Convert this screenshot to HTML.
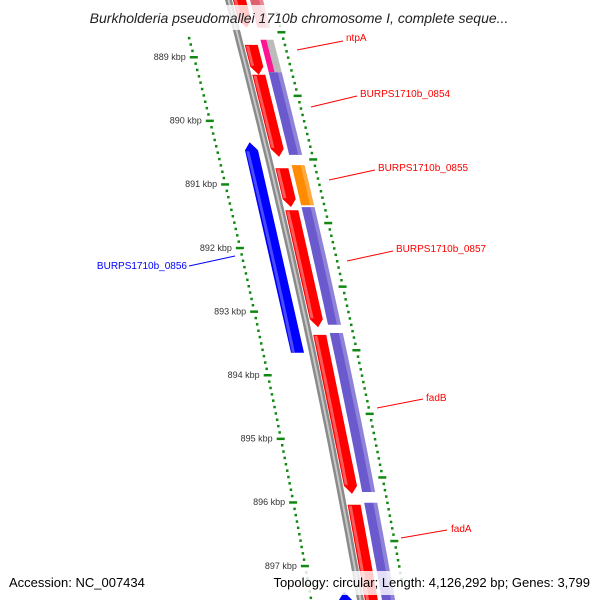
<!DOCTYPE html>
<html><head><meta charset="utf-8"><style>
html,body{margin:0;padding:0;background:#fff;}
svg{display:block;font-family:"Liberation Sans",sans-serif;}
</style></head><body>
<svg id="map" width="600" height="600" viewBox="0 0 600 600" xmlns="http://www.w3.org/2000/svg">
<g id="layer"></g>
</svg>
<script>
// data (kbp)
const tickLabels = [889, 890, 891, 892, 893, 894, 895, 896, 897];
const fwdNames = ["", "ntpA", "BURPS1710b_0854", "BURPS1710b_0855", "BURPS1710b_0857", "fadB", "fadA"];
const fwdStart = [887.95, 888.81, 889.28, 890.75, 891.41, 893.37, 896.04];
const fwdEnd   = [888.54, 889.28, 890.57, 891.36, 893.25, 895.87, 897.90];
const cdsStart = [887.95, 888.73, 889.24, 890.70, 891.36, 893.34, 896.01];
const cdsEnd   = [888.54, 889.24, 890.54, 891.33, 893.21, 895.84, 897.90];
const cdsColor = ["#e06070", "#ff1493", "#6a5acd", "#ff8c00", "#6a5acd", "#6a5acd", "#6a5acd"];
const revNames = ["BURPS1710b_0856", ""];
const revStart = [890.34, 897.41];
const revEnd   = [893.65, 897.90];

const layer = document.getElementById('layer');
const NS = "http://www.w3.org/2000/svg";
function yOf(k){ return 57 + (k - 889) * 63.6; }
function cx(y){ return 225 + 0.264*y - 7.33e-5*y*y; }
function P(o,y){ return (cx(y)+o).toFixed(1)+","+y.toFixed(1); }
function mk(tag, attrs){ const e=document.createElementNS(NS,tag); for(const k in attrs) e.setAttribute(k,attrs[k]); layer.appendChild(e); return e; }
function band(o1,o2,y1,y2){ const pts=[]; for(let y=y1;y<=y2;y+=10) pts.push(P(o1,Math.min(y,y2))); pts.push(P(o1,y2)); pts.push(P(o2,y2)); for(let y=y2;y>=y1;y-=10) pts.push(P(o2,Math.max(y,y1))); pts.push(P(o2,y1)); return pts.join(" "); }
function arrow(o1,o2,y1,y2,dir){ const m=(o1+o2)/2, h=8;
  if(dir>0) return [P(o1,y1),P(o2,y1),P(o2,y2-h),P(m,y2),P(o1,y2-h)].join(" ");
  return [P(m,y1),P(o2,y1+h),P(o2,y2),P(o1,y2),P(o1,y1+h)].join(" "); }

// backbone
let e = mk('polygon',{points:band(0,7,-5,605),fill:'#8a8a8a'});
 
e = mk('polygon',{points:band(2.5,4.5,-5,605),fill:'#c8c8c8'});
 

// rulers
for(let i=-3;i<=95;i++){
  const k = 889 + i/10; const y = yOf(k);
  if(y<-5||y>605) continue;
  const major = (i%10===0);
  const d = mk('rect',{x:(cx(y)-46-(major?4:1)).toFixed(1),y:(y-1).toFixed(1),width:major?8:2.5,height:2.5,fill:'#118811'});
   
  const y2 = y - 25;
  const d2 = mk('rect',{x:(cx(y2)+48-(major?4:1)).toFixed(1),y:(y2-1).toFixed(1),width:major?8:2.5,height:2.5,fill:'#118811'});
   
}
tickLabels.forEach(k=>{ const y=yOf(k);
  const t = mk('text',{x:(cx(y)-54).toFixed(1),y:(y+3).toFixed(1),'font-size':'9','text-anchor':'end',fill:'#333'});
  t.textContent = k+" kbp";
   
});

// forward genes (red)
fwdStart.forEach((s,i)=>{ const y1=yOf(s), y2=yOf(fwdEnd[i]);
  const g = mk('polygon',{points:arrow(8,21,y1,y2,1),fill:'#ff0000'});
   
  const h = mk('polygon',{points:band(9,12,y1+1,y2-9),fill:'#ff5a5a'});
   
});
// CDS lane
cdsStart.forEach((s,i)=>{ const y1=yOf(s), y2=yOf(cdsEnd[i]);
  if(i===1){
    const a = mk('polygon',{points:band(25,31,y1,y2),fill:cdsColor[i]});
     
    const b = mk('polygon',{points:band(31,38,y1,y2),fill:'#bbbbbb'});
     
    return;
  }
  const c = mk('polygon',{points:band(25,38,y1,y2),fill:cdsColor[i]});
   
  const h = mk('polygon',{points:band(34,38,y1,y2),fill:'#ffffff','fill-opacity':'0.25'});
   
});
// reverse genes (blue)
revStart.forEach((s,i)=>{ const y1=yOf(s), y2=yOf(revEnd[i]);
  const g = mk('polygon',{points:arrow(-18,-5,y1,y2,-1),fill:'#0000ff'});
   
  const h = mk('polygon',{points:band(-17,-14,y1+9,y2),fill:'#4a4aff'});
   
});

// labels
const lbls = [
 ["ntpA",297,50,343,41,346,41,'#ff0000','start'],
 ["BURPS1710b_0854",311,107,357,96,360,97,'#ff0000','start'],
 ["BURPS1710b_0855",329,180,375,170,378,171,'#ff0000','start'],
 ["BURPS1710b_0857",347,261,393,251,396,252,'#ff0000','start'],
 ["fadB",377,408,423,399,426,401,'#ff0000','start'],
 ["fadA",401,538,447,530,451,532,'#ff0000','start'],
 ["BURPS1710b_0856",235,256,189,266,187,269,'#0000ff','end']
];
lbls.forEach(l=>{
  const ln = mk('line',{x1:l[1],y1:l[2],x2:l[3],y2:l[4],stroke:l[7],'stroke-width':1});
   
  const t = mk('text',{x:l[5],y:l[6],'font-size':'10',fill:l[7],'text-anchor':l[8]});
  t.textContent = l[0];
   
});

// title + footer
let r = mk('rect',{x:62,y:5,width:474,height:25,fill:'#fff','fill-opacity':'0.8'});
 
let t = mk('text',{x:299,y:23,'font-size':'14','font-style':'italic','text-anchor':'middle',fill:'#222'});
t.textContent = 'Burkholderia pseudomallei 1710b chromosome I, complete seque...';
 
r = mk('rect',{x:0,y:571,width:600,height:24,fill:'#fff','fill-opacity':'0.8'});
 
t = mk('text',{x:9,y:587,'font-size':'13',fill:'#000'});
t.textContent = 'Accession: NC_007434';
 
t = mk('text',{x:590,y:587,'font-size':'13',fill:'#000','text-anchor':'end'});
t.textContent = 'Topology: circular; Length: 4,126,292 bp; Genes: 3,799';
 
</script>
</body></html>
